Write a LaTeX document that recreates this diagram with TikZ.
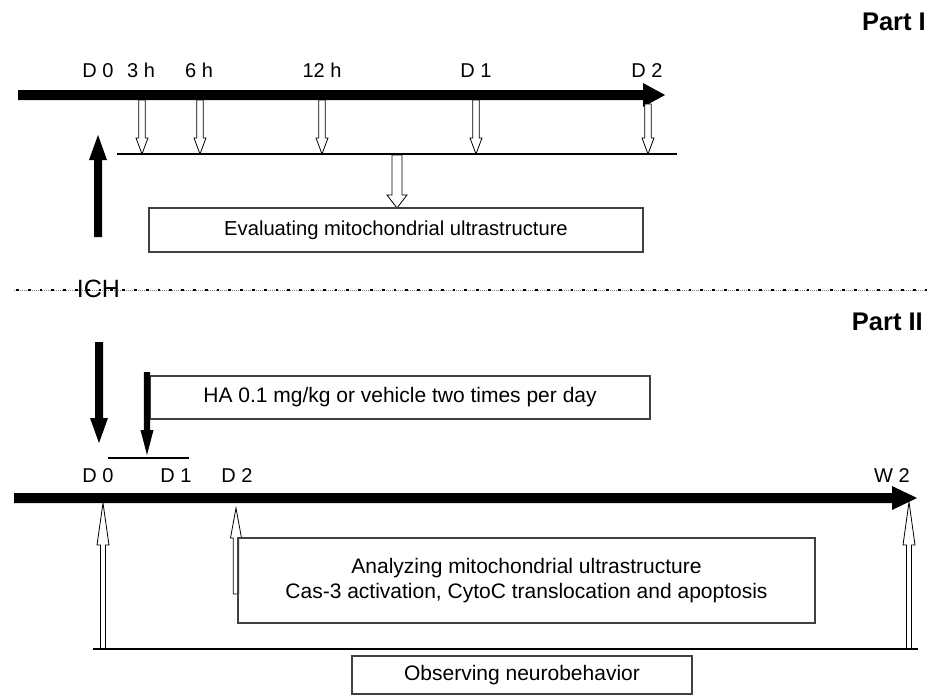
\documentclass[tikz,border=0pt]{standalone}
\usepackage{fontspec}
\setmainfont{Liberation Sans}
\begin{document}
\begin{tikzpicture}[x=1pt,y=-1pt,
  lbl/.style={font=\fontsize{20}{23}\selectfont, inner sep=0pt, anchor=base},
  partlbl/.style={font=\fontsize{25.5}{29}\selectfont\bfseries, inner sep=0pt, anchor=base east},
  infobox/.style={draw=black!75, line width=1.1pt, font=\fontsize{21}{25}\selectfont, align=center, inner sep=0pt},
  hollow/.style={draw=black, fill=white, line width=0.8pt, line join=miter},
  solid/.style={fill=black, draw=none},
  bar/.style={line width=2pt}
]
\useasboundingbox (0,0) rectangle (928,696);
% #1 x, #2 y start, #3 y head base, #4 y tip, #5 shaft half width, #6 head half width
\newcommand\blockarrow[7]{%
  \path[#7] ({#1-#5},#2) -- ({#1-#5},#3) -- ({#1-#6},#3) -- (#1,#4) -- ({#1+#6},#3) -- ({#1+#5},#3) -- ({#1+#5},#2) -- cycle;}

% ---------- Part I ----------
\node[partlbl] (p1) at (926,30) {Part I};
% top thick timeline
\path[solid] (18,90) -- (643,90) -- (643,83) -- (665,95) -- (643,107) -- (643,100) -- (18,100) -- cycle;
\node[lbl] (t0) at (98,77) {D 0};
\node[lbl] (t3) at (141,77) {3 h};
\node[lbl] (t6) at (199,77) {6 h};
\node[lbl] (t12) at (322,77) {12 h};
\node[lbl] (td1) at (476,77) {D 1};
\node[lbl] (td2) at (647,77) {D 2};
% hollow arrows down
\blockarrow{142}{100}{138}{154}{3.2}{6}{hollow}
\blockarrow{200}{100}{138}{154}{3.2}{6}{hollow}
\blockarrow{322}{100}{138}{154}{3.2}{6}{hollow}
\blockarrow{476}{100}{138}{154}{3.2}{6}{hollow}
\blockarrow{648}{104}{138}{154}{3.2}{6}{hollow}
% horizontal collecting line
\coordinate (l1a) at (117,154);
\coordinate (l1b) at (677,154);
\draw[bar] (l1a) -- (l1b);
% arrow to evaluating box
\blockarrow{397}{155}{195}{208}{5}{10}{hollow}
\node[infobox, font=\fontsize{20.2}{24}\selectfont, minimum width=494pt, minimum height=44pt] (eval) at (396,230) {Evaluating mitochondrial ultrastructure};
% ICH up arrow
\blockarrow{98}{237}{160}{135}{4}{9}{solid}

% ---------- separator ----------
\draw[black!50, line width=0.6pt, dash pattern=on 1pt off 1pt] (14,290) -- (928,290);
\draw[black, line width=2.8pt, dash pattern=on 2.8pt off 9pt] (16,290) -- (928,290);
\node[lbl, font=\fontsize{25}{29}\selectfont] (ich) at (98.5,297) {ICH};

% ---------- Part II ----------
\node[partlbl] (p2) at (923,330) {Part II};
\blockarrow{99}{342}{418}{443}{4}{9}{solid}
\node[infobox, minimum width=500pt, minimum height=43pt] (ha) at (400,397.5) {HA 0.1 mg/kg or vehicle two times per day};
\blockarrow{147}{372}{430}{455}{3.2}{6.5}{solid}
\coordinate (s1) at (108,458);
\coordinate (s2) at (189,458);
\draw[bar] (s1) -- (s2);
\node[lbl] (b0) at (98,482) {D 0};
\node[lbl] (b1) at (176,482) {D 1};
\node[lbl] (b2) at (237,482) {D 2};
\node[lbl] (bw2) at (892,482) {W 2};
% bottom thick timeline
\path[solid] (14,493) -- (892,493) -- (892,486) -- (917,498) -- (892,510) -- (892,503) -- (14,503) -- cycle;
% hollow up arrows
\blockarrow{103}{649}{545}{503}{2.5}{6}{hollow}
\blockarrow{909}{649}{545}{502}{2.5}{6}{hollow}
\blockarrow{236}{594}{538}{508}{2.8}{5.5}{hollow}
\node[infobox, minimum width=577pt, minimum height=85pt] (ana) at (526.5,580.5) {Analyzing mitochondrial ultrastructure\\Cas-3 activation, CytoC translocation and apoptosis};
\coordinate (l2a) at (93,649);
\coordinate (l2b) at (918,649);
\draw[bar] (l2a) -- (l2b);
\node[infobox, minimum width=340pt, minimum height=38pt] (obs) at (522,675) {Observing neurobehavior};
\end{tikzpicture}
\end{document}
